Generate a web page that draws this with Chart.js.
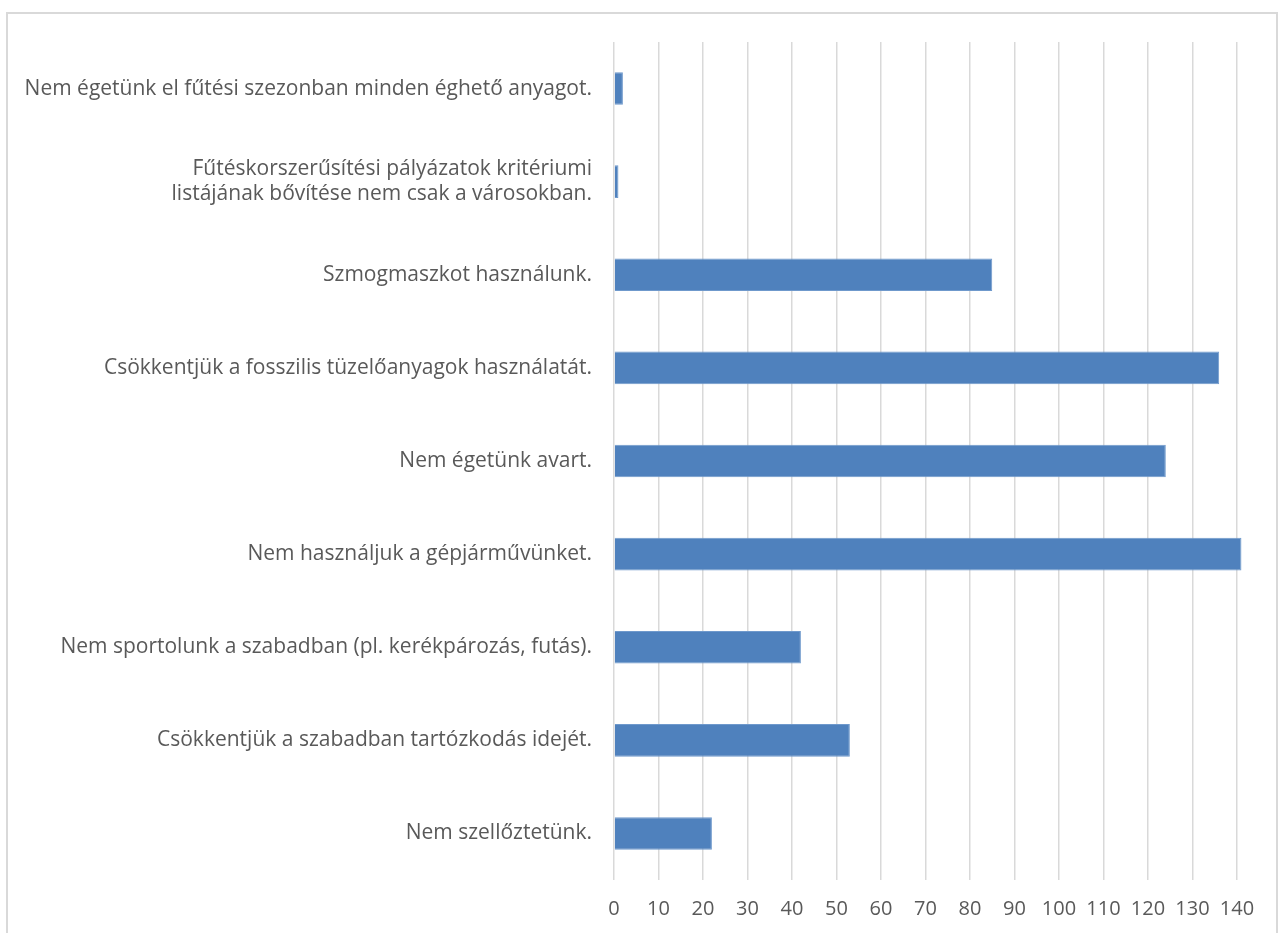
<!DOCTYPE html>
<html>
<head>
<meta charset="utf-8">
<script src="https://cdn.jsdelivr.net/npm/chart.js@4/dist/chart.umd.min.js"></script>
<style>
  body { margin: 0; background: #fff; overflow: hidden; }
  #wrap { position: relative; width: 1282px; height: 933px; }
  #frame { position: absolute; left: 6px; top: 12px; width: 1268px; height: 960px; border: 2px solid #d9d9d9; }
  #myChart { position: absolute; left: 0; top: 0; }
</style>
</head>
<body>
<div id="wrap">
  <div id="frame"></div>
  <canvas id="myChart" width="1282" height="933"></canvas>
</div>
<script>
var labels = [
  "Nem égetünk el fűtési szezonban minden éghető anyagot.",
  ["Fűtéskorszerűsítési pályázatok kritériumi", "listájának bővítése nem csak a városokban."],
  "Szmogmaszkot használunk.",
  "Csökkentjük a fosszilis tüzelőanyagok használatát.",
  "Nem égetünk avart.",
  "Nem használjuk a gépjárművünket.",
  "Nem sportolunk a szabadban (pl. kerékpározás, futás).",
  "Csökkentjük a szabadban tartózkodás idejét.",
  "Nem szellőztetünk."
];
var values = [2, 1, 85, 136, 124, 141, 42, 53, 22];
var xMin = 0, xMax = 140, xStep = 10;

new Chart("myChart", {
  type: "bar",
  data: {
    labels: labels,
    datasets: [{
      data: values,
      backgroundColor: "#4f81bd",
      borderColor: "#6f99cc",
      borderWidth: 1,
      categoryPercentage: 1,
      barPercentage: 0.35,
      clip: false
    }]
  },
  options: {
    indexAxis: "y",
    responsive: false,
    animation: false,
    layout: { padding: { top: 42, right: 45, bottom: 0, left: 0 } },
    plugins: {
      legend: { display: false },
      tooltip: { enabled: false }
    },
    scales: {
      x: {
        min: xMin,
        max: xMax,
        ticks: {
          stepSize: xStep,
          color: "#595959",
          padding: 17,
          font: { family: "Open Sans", size: 20 }
        },
        grid: { color: "#d9d9d9", lineWidth: 1.5, drawTicks: false },
        border: { display: false },
        afterFit: function (scale) { scale.height = 53; }
      },
      y: {
        ticks: {
          color: "#595959",
          padding: 22,
          font: { family: "Open Sans", size: 21, lineHeight: 1.2 }
        },
        grid: { display: false, drawTicks: false },
        border: { display: false },
        afterFit: function (scale) { scale.width = 614; }
      }
    }
  }
});
</script>
</body>
</html>
